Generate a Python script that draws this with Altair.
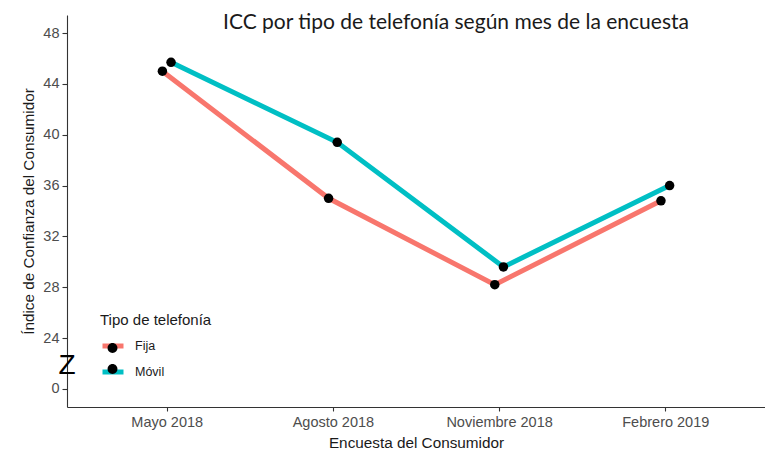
import altair as alt
import pandas as pd

meses = ["Mayo 2018", "Agosto 2018", "Noviembre 2018", "Febrero 2019"]
fija = [45.0, 35.0, 28.2, 34.8]
movil = [45.7, 39.4, 29.6, 36.0]
series = ["Fija", "Móvil"]
y_ticks = [20, 24, 28, 32, 36, 40, 44, 48]
y_tick_labels = ["0", "24", "28", "32", "36", "40", "44", "48"]
colores = ["#F8766D", "#00BFC4"]

rows = []
for i, m in enumerate(meses):
    rows.append({"mes": m, "idx": i + 1, "tipo": "Fija", "icc": fija[i]})
    rows.append({"mes": m, "idx": i + 1, "tipo": "Móvil", "icc": movil[i]})
df = pd.DataFrame(rows)

x_label_expr = "[" + ",".join("'" + m + "'" for m in meses) + "][datum.value - 1]"
y_label_expr = "{" + ",".join("'%d':'%s'" % (v, l) for v, l in zip(y_ticks, y_tick_labels)) + "}[datum.value + '']"

FONT = "Liberation Sans"

xenc = alt.X(
    "xpos:Q",
    scale=alt.Scale(domain=[0.4, 4.6], nice=False, zero=False),
    axis=alt.Axis(
        values=[1, 2, 3, 4], labelExpr=x_label_expr, title="Encuesta del Consumidor",
        grid=False, tickSize=4, labelPadding=4, titlePadding=7,
    ),
)
yenc = alt.Y(
    "icc:Q",
    scale=alt.Scale(domain=[18.58, 49.42], nice=False, zero=False),
    axis=alt.Axis(
        values=y_ticks, labelExpr=y_label_expr, title="Índice de Confianza del Consumidor",
        grid=False, tickSize=5, labelPadding=3, titlePadding=6,
    ),
)

base = alt.Chart(df).transform_calculate(
    xpos="datum.idx + (datum.tipo == 'Fija' ? -0.026 : 0.026)"
)

lines = base.mark_line(strokeWidth=5, strokeCap="butt").encode(
    x=xenc,
    y=yenc,
    stroke=alt.Stroke(
        "tipo:N",
        scale=alt.Scale(range=colores),
        legend=alt.Legend(
            title="Tipo de telefonía", symbolType="stroke",
            orient="none", legendX=33, legendY=298,
            symbolSize=441, symbolStrokeWidth=5,
            labelOffset=9, rowPadding=3, titlePadding=5,
        ),
    ),
    detail="tipo:N",
)

circle_path = "M-0.47,0A0.47,0.47,0,1,0,0.47,0A0.47,0.47,0,1,0,-0.47,0Z"
points = base.mark_point(filled=True, size=90, opacity=1).encode(
    x=xenc,
    y=yenc,
    fill=alt.Fill(
        "tipo:N",
        scale=alt.Scale(domain=series, range=["black", "black"]),
        legend=alt.Legend(
            title=" ", symbolType=circle_path, symbolStrokeWidth=0,
            labelExpr="' '",
            orient="none", legendX=35, legendY=302.5,
            symbolSize=441, labelOffset=9, rowPadding=4, titlePadding=5,
        ),
    ),
)

title_df = pd.DataFrame({"t": ["ICC por tipo de telefonía según mes de la encuesta"]})
title = alt.Chart(title_df).mark_text(
    font="Lato", fontSize=21, color="#1a1a1a", align="center", baseline="middle"
).encode(text="t:N", x=alt.value(389), y=alt.value(8))

z_df = pd.DataFrame({"t": ["Z"]})
zmark = alt.Chart(z_df).mark_text(
    font=FONT, fontSize=28, color="black", align="center", baseline="middle"
).encode(text="t:N", x=alt.value(0), y=alt.value(351))

chart = alt.layer(lines, points, title, zmark).resolve_scale(
    stroke="independent", fill="independent"
).properties(
    width=698, height=392,
    autosize=alt.AutoSizeParams(type="none"),
    padding={"left": 67, "top": 15, "right": 0, "bottom": 45},
).configure_view(stroke=None).configure_axis(
    domainColor="#333333", domainWidth=1.1, tickColor="#333333", tickWidth=1.1,
    labelColor="#4D4D4D", labelFontSize=14.5, labelFont=FONT,
    titleColor="#1a1a1a", titleFontSize=15.3, titleFont=FONT, titleFontWeight="normal",
).configure_legend(
    titleFont=FONT, titleFontSize=15, titleFontWeight="normal", titleColor="#1a1a1a",
    labelFont=FONT, labelFontSize=12.5, labelColor="#1a1a1a", padding=0,
)

chart.save("out.html", embed_options={"renderer": "svg", "actions": False})
